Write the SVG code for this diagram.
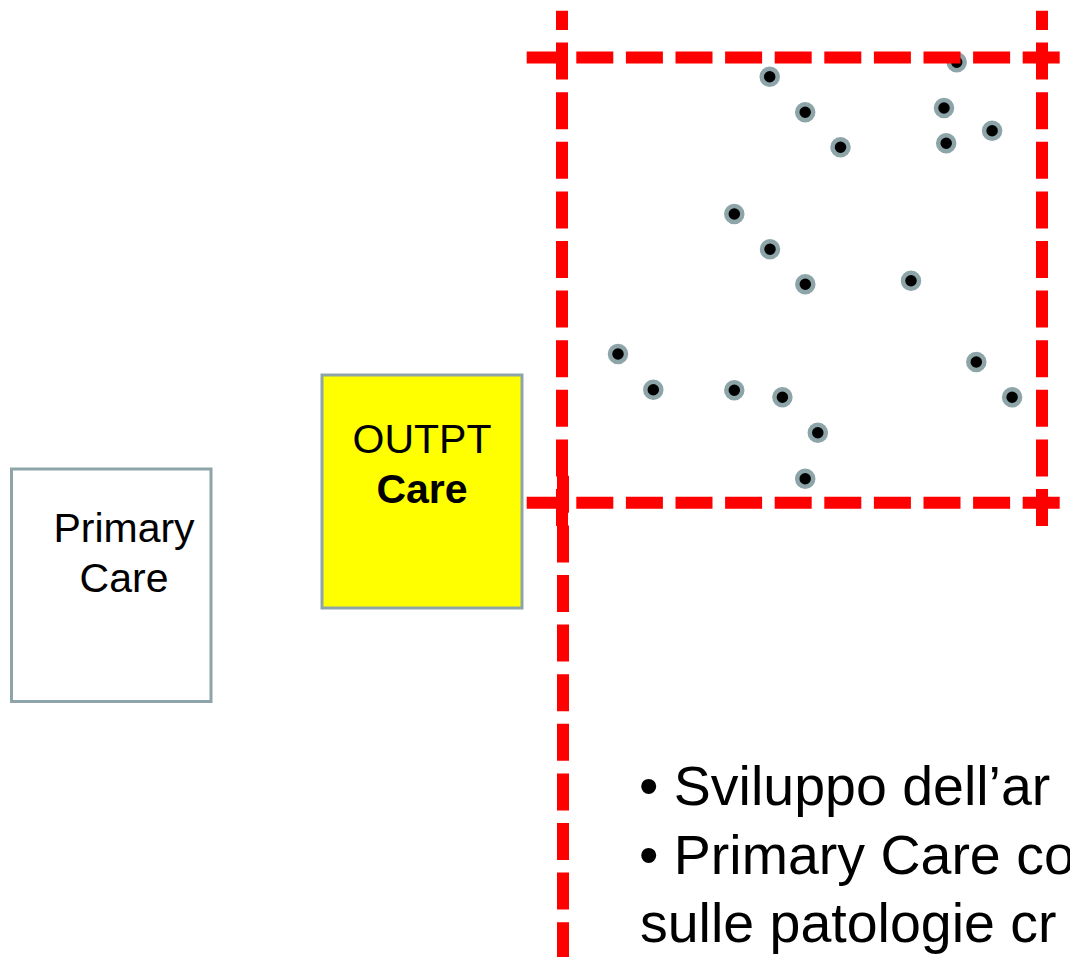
<svg xmlns="http://www.w3.org/2000/svg" width="1070" height="957" viewBox="0 0 1070 957">
<style>
  .box { stroke: #8DA5A8; stroke-width: 3; }
  .lbl { font-family: "Liberation Sans", Arial, sans-serif; font-size: 41px; fill: #000; text-anchor: middle; }
  .dot { fill: #000; stroke: #8DA5A8; stroke-width: 4.5; }
  .dash { stroke: #FF0000; stroke-width: 12; fill: none; stroke-dasharray: 37 12.6; }
  .body { font-family: "Liberation Sans", Arial, sans-serif; font-size: 55.5px; fill: #000; }
</style>
<rect width="1070" height="957" fill="#FFFFFF"/>
<g id="primary-care">
  <rect class="box" x="11.5" y="469" width="199.5" height="232.5" fill="#FFFFFF"/>
  <text class="lbl" x="124" y="542">Primary</text>
  <text class="lbl" x="124" y="591.5">Care</text>
</g>
<g id="outpt-care">
  <rect class="box" x="322" y="375" width="200" height="233" fill="#FFFF00"/>
  <text class="lbl" x="422" y="453">OUTPT</text>
  <text class="lbl" x="422" y="502.5" font-weight="bold">Care</text>
</g>
<g id="dots">
  <circle class="dot" cx="769.7" cy="76.7" r="8"/>
  <circle class="dot" cx="805.2" cy="112.3" r="8"/>
  <circle class="dot" cx="840.5" cy="147.3" r="8"/>
  <circle class="dot" cx="956.7" cy="62.3" r="8"/>
  <circle class="dot" cx="944" cy="108" r="8"/>
  <circle class="dot" cx="946.2" cy="143.3" r="8"/>
  <circle class="dot" cx="992.1" cy="130.7" r="8"/>
  <circle class="dot" cx="734.3" cy="214" r="8"/>
  <circle class="dot" cx="770" cy="249.3" r="8"/>
  <circle class="dot" cx="805.3" cy="284.3" r="8"/>
  <circle class="dot" cx="911" cy="280.7" r="8"/>
  <circle class="dot" cx="618" cy="354" r="8"/>
  <circle class="dot" cx="653.3" cy="389.7" r="8"/>
  <circle class="dot" cx="734.3" cy="390.3" r="8"/>
  <circle class="dot" cx="782.4" cy="397.3" r="8"/>
  <circle class="dot" cx="817.8" cy="432.7" r="8"/>
  <circle class="dot" cx="805.2" cy="478.7" r="8"/>
  <circle class="dot" cx="976.3" cy="362" r="8"/>
  <circle class="dot" cx="1012.1" cy="397.3" r="8"/>
</g>
<g id="connectors">
  <line class="dash" x1="526.7" y1="57.5" x2="1059.7" y2="57.5"/>
  <line class="dash" x1="526.7" y1="502.8" x2="1059.7" y2="502.8"/>
  <line class="dash" x1="562" y1="10.7" x2="562" y2="526.4" stroke-dashoffset="17.7"/>
  <line class="dash" x1="1042" y1="10.7" x2="1042" y2="526.4" stroke-dashoffset="17.7"/>
  <line class="dash" x1="563" y1="475.8" x2="563" y2="957"/>
</g>
<g id="notes">
  <text class="body" x="639" y="805">• Sviluppo dell’ar</text>
  <text class="body" x="639" y="873.5">• Primary Care co</text>
  <text class="body" x="640" y="942">sulle patologie cr</text>
</g>
</svg>
